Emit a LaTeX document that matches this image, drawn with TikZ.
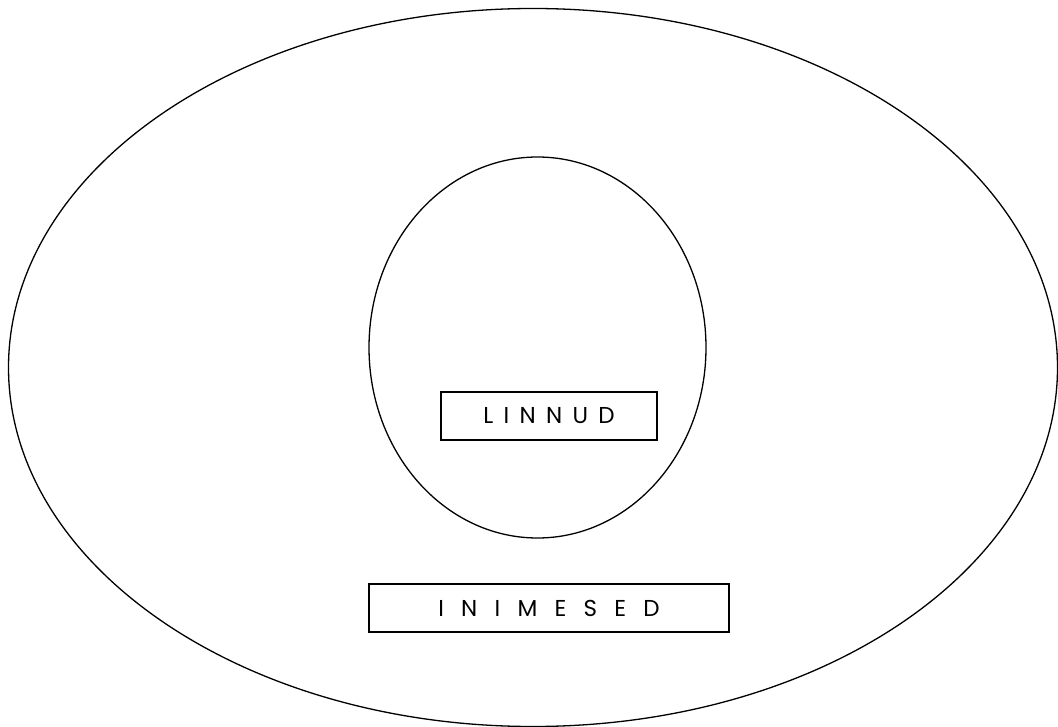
\documentclass[tikz,border=0pt]{standalone}
\usepackage{fontspec}
\setmainfont{Poppins}
\begin{document}
\begin{tikzpicture}[x=1pt,y=-1pt,
  shape line/.style={draw=black,line width=1.3pt},
  labelbox/.style={draw=black,line width=1.3pt,minimum height=48pt,inner sep=0pt,font=\fontsize{23}{26}\selectfont\addfontfeatures{LetterSpace=75}}]
\useasboundingbox (0,0) rectangle (1058,727);
\draw[shape line] (533,367.5) ellipse [x radius=524.5, y radius=359];
\draw[shape line] (537.5,347.5) ellipse [x radius=168.5, y radius=190.5];
\node[labelbox,minimum width=216pt,font=\fontsize{23}{26}\selectfont\addfontfeatures{LetterSpace=45}] (linnud) at (549,416) {\raisebox{-3pt}{LINNUD}};
\node[labelbox,minimum width=360pt] (inimesed) at (549,608) {\raisebox{-2pt}{INIMESED}};
\end{tikzpicture}
\end{document}
